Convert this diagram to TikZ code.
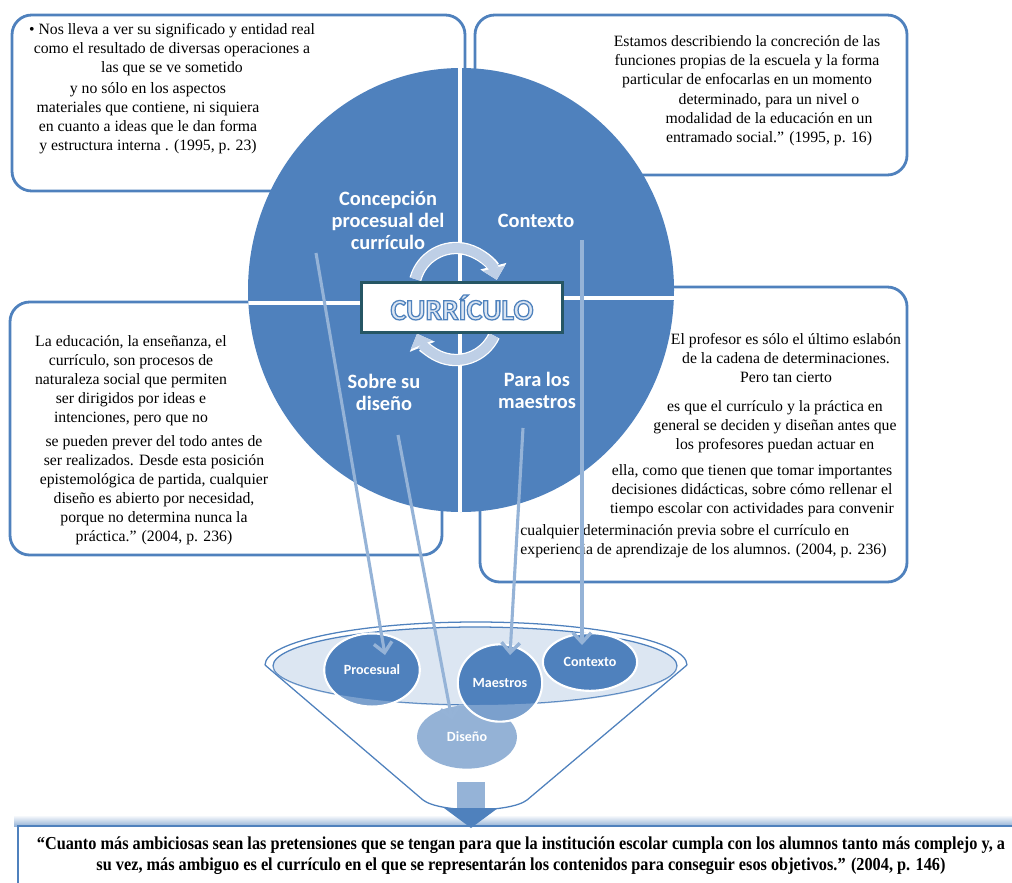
\documentclass[tikz,border=0pt]{standalone}
\usepackage{fontspec}
\setmainfont{Liberation Serif}
\newfontfamily\calfont{Carlito}
\newfontfamily\condfont[FakeStretch=0.89]{Liberation Serif}
\usetikzlibrary{arrows.meta,shapes.geometric,calc}
\definecolor{cblue}{RGB}{79,129,189}
\definecolor{clight}{RGB}{149,179,215}
\definecolor{cpale}{RGB}{220,230,242}
\definecolor{cteal}{RGB}{38,86,100}
\definecolor{ccyc}{RGB}{190,207,230}
\definecolor{cdis}{RGB}{113,153,201}
\newcommand\outlined[1]{\special{pdf:bcolor [0.86 0.9 0.95] [0.31 0.51 0.74]}%
  \special{pdf:literal direct 2 Tr 0.9 w}#1\special{pdf:literal direct 0 Tr}\special{pdf:ecolor}}

\begin{document}
\begin{tikzpicture}[x=.025cm,y=-.025cm,line width=.6pt,
  every node/.style={inner sep=0pt},
  quote/.style={font=\fontsize{11.2}{13.5}\selectfont,align=center},
  frame/.style={draw=cblue,fill=white,line width=2pt,rounded corners=14pt},
  quad/.style={font=\calfont\bfseries\fontsize{14.5}{15.6}\selectfont,text=white,align=center},
  ball/.style={ellipse,fill=cblue,draw=white,line width=1.5pt,text=white,
    font=\calfont\bfseries\fontsize{10}{12}\selectfont},
  feed/.style={draw=clight,line width=2.2pt,-{Straight Barb[length=7pt,width=13pt,line width=2.4pt]}},
  cyc/.style={line width=7pt,draw=ccyc,-{Triangle[length=8.5pt,width=16pt]}},
  cycedge/.style={line width=8.8pt,draw=white,-{Triangle[length=10pt,width=18.5pt]}}]
  \path[use as bounding box] (0,0) rectangle (1012,882);

  \draw[frame] (12,15) rectangle (465,191);
  \draw[frame] (475,15) rectangle (907,175);
  \draw[frame] (10,302) rectangle (442,555);
  \draw[frame] (480,287) rectangle (907,582);

  \node[quote] (tlA) at (172,50) {• Nos lleva a ver su significado y entidad real\\
    como el resultado de diversas operaciones a\\las que se ve sometido};
  \node[quote] (tlB) at (148,118) {y no sólo en los aspectos\\materiales que contiene, ni siquiera\\
    en cuanto a ideas que le dan forma\\y estructura interna . (1995, p. 23)};
  \node[quote] (trA) at (747,62) {Estamos describiendo la concreción de las\\
    funciones propias de la escuela y la forma\\particular de enfocarlas en un momento};
  \node[quote] (trB) at (769,120) {determinado, para un nivel o\\modalidad de la educación en un\\
    entramado social.” (1995, p. 16)};
  \node[quote] (mlA) at (131,380.5) {La educación, la enseñanza, el\\currículo, son procesos de\\
    naturaleza social que permiten\\ser dirigidos por ideas e\\intenciones, pero que no};
  \node[quote] (mlB) at (154,490.5) {se pueden prever del todo antes de\\ser realizados. Desde esta posición\\
    epistemológica de partida, cualquier\\diseño es abierto por necesidad,\\
    porque no determina nunca la\\práctica.” (2004, p. 236)};
  \node[quote] (mrA) at (786,358.5) {El profesor es sólo el último eslabón\\
    de la cadena de determinaciones.\\Pero tan cierto};
  \node[quote] (mrB) at (775,427) {es que el currículo y la práctica en\\
    general se deciden y diseñan antes que\\los profesores puedan actuar en};
  \node[quote] (mrC) at (752,490.5) {ella, como que tienen que tomar importantes\\
    decisiones didácticas, sobre cómo rellenar el\\tiempo escolar con actividades para convenir};
  \node[quote,align=left,anchor=west] (mrD) at (520,541.5) {cualquier determinación previa sobre el currículo en\\
    experiencia de aprendizaje de los alumnos. (2004, p. 236)};

  \fill[cblue] (461,290) ellipse [x radius=213, y radius=222];
  \begin{scope}
    \clip (461,290) ellipse [x radius=213, y radius=222];
    \draw[white,line width=2.2pt] (460,60) -- (460,520) (240,303) -- (460,303) (460,298) -- (680,298);
  \end{scope}

  \node[quad] (qConc) at (388,220) {Concepción\\procesual del\\currículo};
  \node[quad] (qCont) at (536,221) {Contexto};
  \node[quad] (qDis) at (384,392) {Sobre su\\diseño};
  \node[quad] (qMae) at (537,390) {Para los\\maestros};

  \draw[cycedge] (456,290) ++(-165:42) arc[start angle=-165,end angle=-14,radius=42];
  \draw[cyc] (456,290) ++(-165:42) arc[start angle=-165,end angle=-14,radius=42];
  \draw[cycedge] (456,318) ++(25:42) arc[start angle=25,end angle=158,radius=42];
  \draw[cyc] (456,318) ++(25:42) arc[start angle=25,end angle=158,radius=42];

  \node[draw=cteal,line width=2.2pt,fill=white,minimum width=143pt,minimum height=36pt] (cur) at (462,307.5)
    {\calfont\bfseries\fontsize{21}{21}\selectfont\outlined{CURRÍCULO}};

  \shade[top color=white,bottom color=clight] (14,815) rectangle (1012,826);
  \draw[cblue,line width=1.2pt,fill=white] (18,826) rectangle (1040,900);
  \node[font=\condfont\bfseries\fontsize{13}{15}\selectfont,align=center] (thesis) at (521,855.5)
    {“Cuanto más ambiciosas sean las pretensiones que se tengan para que la institución escolar cumpla con los alumnos tanto más complejo y, a\\
    su vez, más ambiguo es el currículo en el que se representarán los contenidos para conseguir esos objetivos.” (2004, p. 146)};

  \fill[white] (265,665) -- (423,800) .. controls (440,813) and (510,813) .. (527,800) -- (687,665) -- cycle;
  \draw[cblue,line width=.9pt] (265,665) arc[start angle=180,end angle=360,x radius=211,y radius=43];
  \draw[cblue,line width=.9pt,fill=cpale] (475,666) ellipse [x radius=202, y radius=39];

  \node[ball,draw=none,fill=cdis,minimum width=71pt,minimum height=45pt] (dis) at (467,737) {Diseño};
  \node[ball,minimum width=68pt,minimum height=52pt] (proc) at (372,670) {Procesual};
  \node[ball,minimum width=60pt,minimum height=55pt] (maes) at (500,683) {Maestros};
  \node[ball,minimum width=67pt,minimum height=41pt] (cont) at (590,662) {Contexto};

  \fill[white,opacity=.25] (265,665) -- (423,800) .. controls (440,813) and (510,813) .. (527,800) -- (687,665)
    -- (677,666) arc[start angle=0,end angle=180,x radius=202,y radius=39] -- cycle;
  \draw[cblue,line width=.9pt] (265,665) -- (423,800) .. controls (440,813) and (510,813) .. (527,800) -- (687,665);

  \fill[clight] (457,782) rectangle (485,810);
  \fill[cblue] (444,808) -- (498,808) -- (471,828) -- cycle;

  \coordinate (fromConc) at (316,253);
  \coordinate (fromDis) at (398,435);
  \coordinate (fromMae) at (523,428);
  \coordinate (fromCont) at (582,240);
  \draw[feed] (fromConc) -- ($(proc)+(13,-15)$);
  \draw[feed] (fromDis) -- ($(dis)+(-15,-17)$);
  \draw[feed] (fromMae) -- ($(maes)+(10,-28)$);
  \draw[feed] (fromCont) -- ($(cont)+(-8,-17)$);
\end{tikzpicture}
\end{document}
